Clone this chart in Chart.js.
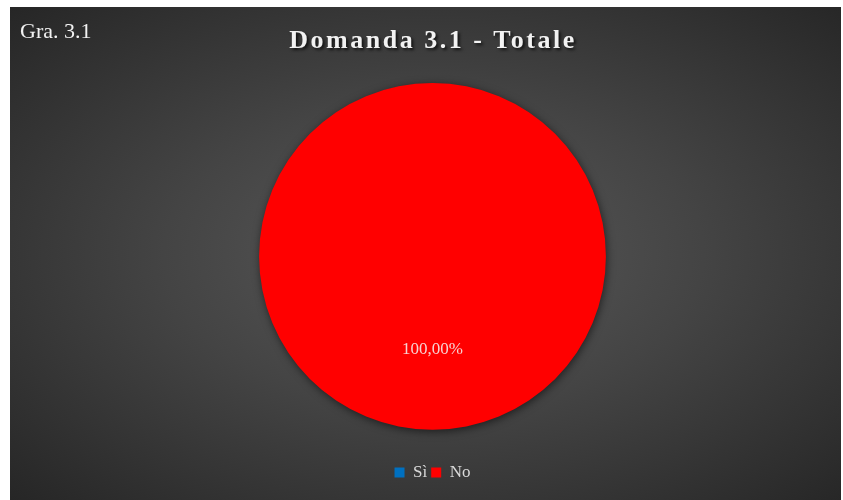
<!DOCTYPE html>
<html>
<head>
<meta charset="utf-8">
<script src="https://cdn.jsdelivr.net/npm/chart.js@4.4.0/dist/chart.umd.min.js"></script>
<style>
  html, body { margin: 0; padding: 0; background: #fff; }
  .frame {
    position: absolute;
    left: 10px;
    top: 7px;
    width: 831px;
    height: 493px;
    background: radial-gradient(ellipse at 51% 50%, #5a5a5a 0%, #444 45%, #262626 100%);
  }
</style>
</head>
<body>
<div class="frame">
  <canvas id="myChart" width="831" height="493"></canvas>
</div>
<script>
const categories = ['Sì', 'No']
const values = [0, 100]
const colors = ['#0070c0', '#ff0000']

const chartTag = 'Gra. 3.1'
const chartTitle = 'Domanda 3.1 - Totale'

// heading text: small tag top-left and the spaced, shadowed title
const headerPlugin = {
  id: 'header',
  afterDraw(chart) {
    const ctx = chart.ctx
    ctx.save()
    ctx.fillStyle = '#f2f2f2'
    ctx.textBaseline = 'alphabetic'
    ctx.textAlign = 'left'
    ctx.font = '22px "Liberation Serif", "Times New Roman", serif'
    ctx.fillText(chartTag, 10, 31)

    ctx.font = 'bold 26px "Liberation Serif", "Times New Roman", serif'
    ctx.letterSpacing = '2.5px'
    ctx.textAlign = 'center'
    ctx.shadowColor = 'rgba(0,0,0,0.7)'
    ctx.shadowOffsetX = 2
    ctx.shadowOffsetY = 2
    ctx.shadowBlur = 3
    ctx.fillText(chartTitle, 423, 41)
    ctx.restore()
  }
}

// soft shadow under the pie
const pieShadow = {
  id: 'pieShadow',
  beforeDatasetsDraw(chart) {
    const ctx = chart.ctx
    ctx.save()
    ctx.shadowColor = 'rgba(0,0,0,0.55)'
    ctx.shadowBlur = 8
    ctx.shadowOffsetX = 1
    ctx.shadowOffsetY = 2
  },
  afterDatasetsDraw(chart) {
    chart.ctx.restore()
  }
}

// percentage labels on the slices
const sliceLabels = {
  id: 'sliceLabels',
  afterDatasetsDraw(chart) {
    const ctx = chart.ctx
    const data = chart.data.datasets[0].data
    const total = data.reduce((a, b) => a + b, 0)
    const meta = chart.getDatasetMeta(0)
    ctx.save()
    ctx.fillStyle = '#f7d2d2'
    ctx.font = '17px "Liberation Serif", "Times New Roman", serif'
    ctx.textAlign = 'center'
    ctx.textBaseline = 'middle'
    meta.data.forEach((arc, i) => {
      if (!data[i]) return
      const p = arc.getCenterPoint()
      const pct = (data[i] / total * 100).toFixed(2).replace('.', ',') + '%'
      ctx.fillText(pct, p.x, p.y + 6)
    })
    ctx.restore()
  }
}

let chart = document.querySelector('#myChart')

let myChart = new Chart(chart, {
  type: 'pie',
  data: {
    labels: categories,
    datasets: [{
      data: values,
      backgroundColor: colors,
      borderWidth: 0
    }]
  },
  options: {
    responsive: false,
    animation: false,
    layout: {
      padding: { top: 76, left: 14, right: 0, bottom: 9 }
    },
    plugins: {
      tooltip: { enabled: false },
      legend: {
        position: 'bottom',
        title: {
          display: true,
          text: '',
          font: { size: 1 },
          padding: { top: 29, bottom: 0 }
        },
        labels: {
          color: '#d9d9d9',
          font: { family: '"Liberation Serif", "Times New Roman", serif', size: 17 },
          boxWidth: 10,
          boxHeight: 10,
          padding: 4
        }
      }
    }
  },
  plugins: [pieShadow, sliceLabels, headerPlugin]
})
</script>
</body>
</html>
